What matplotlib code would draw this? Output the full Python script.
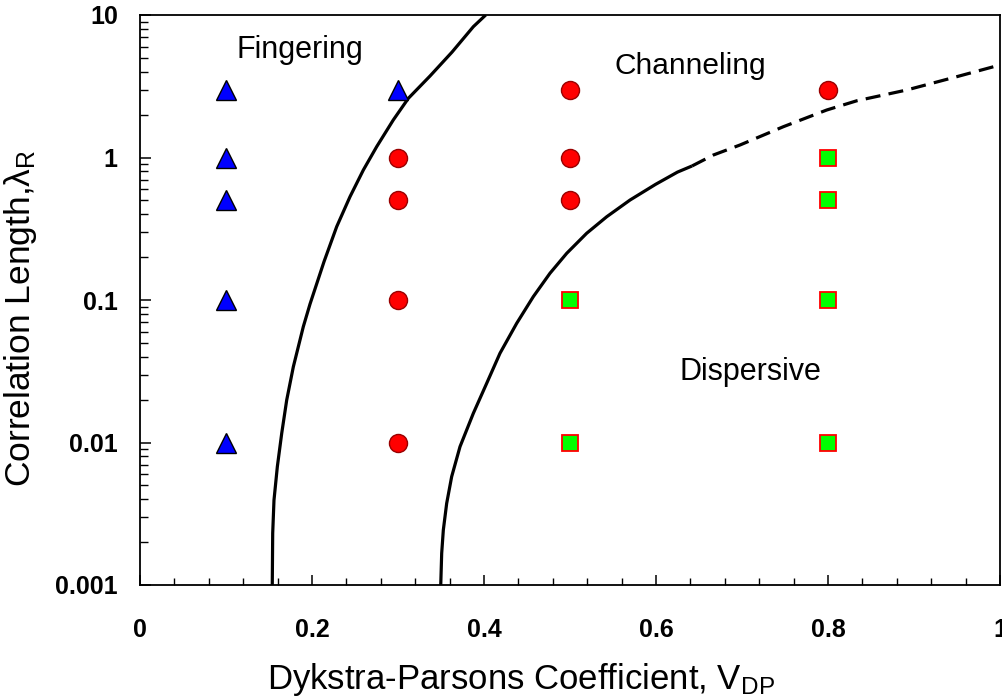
import matplotlib
matplotlib.use("Agg")
import matplotlib.pyplot as plt
from matplotlib.ticker import FixedLocator, LogLocator, NullFormatter, FixedFormatter

plt.rcParams['font.family'] = ['Liberation Sans', 'DejaVu Sans']
plt.rcParams['mathtext.fontset'] = 'custom'
plt.rcParams['mathtext.rm'] = 'Liberation Sans'
plt.rcParams['mathtext.it'] = 'Liberation Sans:italic'

# Simulation outcomes by Dykstra-Parsons coefficient and correlation length
fingering_vdp = [0.1, 0.1, 0.1, 0.1, 0.1, 0.3]
fingering_lam = [3, 1, 0.5, 0.1, 0.01, 3]

channeling_vdp = [0.3, 0.3, 0.3, 0.3, 0.5, 0.5, 0.5, 0.8]
channeling_lam = [1, 0.5, 0.1, 0.01, 3, 1, 0.5, 3]

dispersive_vdp = [0.5, 0.5, 0.8, 0.8, 0.8, 0.8]
dispersive_lam = [0.1, 0.01, 1, 0.5, 0.1, 0.01]

# Regime boundaries
fing_chan_vdp = [0.1538, 0.1543, 0.1558, 0.1597, 0.1648, 0.1706, 0.1783, 0.1899,
                 0.1977, 0.2140, 0.2287, 0.2442, 0.2597, 0.2752, 0.2945, 0.3120,
                 0.3372, 0.3628, 0.3876, 0.402]
fing_chan_lam = [0.001, 0.00231, 0.00394, 0.00677, 0.01161, 0.01987, 0.0340, 0.0650,
                 0.0937, 0.186, 0.327, 0.531, 0.817, 1.191, 1.833, 2.60,
                 3.73, 5.49, 8.28, 10]

chan_disp_vdp = [0.3497, 0.3508, 0.3527, 0.3566, 0.3624, 0.3721, 0.3876, 0.4031,
                 0.4186, 0.4380, 0.4573, 0.4767, 0.4962, 0.5194, 0.5427, 0.5698,
                 0.5995, 0.6250, 0.6419]
chan_disp_lam = [0.001, 0.00167, 0.00243, 0.00374, 0.00576, 0.00935, 0.01603, 0.0260,
                 0.0423, 0.0686, 0.1055, 0.154, 0.2127, 0.294, 0.384, 0.503,
                 0.648, 0.790, 0.872]

chan_disp_ext_vdp = [0.6419, 0.6667, 0.6977, 0.748, 0.7985, 0.8334, 0.8915, 0.9497, 1.0]
chan_disp_ext_lam = [0.872, 1.041, 1.224, 1.644, 2.154, 2.50, 2.976, 3.69, 4.46]

x_ticks = [0, 0.2, 0.4, 0.6, 0.8, 1]
x_tick_labels = ['0', '0.2', '0.4', '0.6', '0.8', '1']
y_ticks = [0.001, 0.01, 0.1, 1, 10]
y_tick_labels = ['0.001', '0.01', '0.1', '1', '10']

fig = plt.figure(figsize=(10.02, 6.96), dpi=100)
ax = fig.add_axes([140 / 1002, 111 / 696, 860 / 1002, 570 / 696])

ax.plot(fing_chan_vdp, fing_chan_lam, color='black', lw=2.3, solid_capstyle='butt',
        solid_joinstyle='round')
ax.plot(chan_disp_vdp, chan_disp_lam, color='black', lw=2.3, solid_capstyle='butt',
        solid_joinstyle='round')
ax.plot(chan_disp_ext_vdp, chan_disp_ext_lam, color='black', lw=2.3,
        linestyle=(0, (4.7, 2.6)), dash_capstyle='butt')

ax.plot(fingering_vdp, fingering_lam, linestyle='none', marker='^', ms=14,
        mfc='#0000FF', mec='black', mew=1.0, clip_on=False, zorder=3)
ax.plot(channeling_vdp, channeling_lam, linestyle='none', marker='o', ms=13,
        mfc='#FF0000', mec='#990000', mew=1.0, clip_on=False, zorder=3)
ax.plot(dispersive_vdp, dispersive_lam, linestyle='none', marker='s', ms=12,
        mfc='#00FF00', mec='#FF0000', mew=1.3, clip_on=False, zorder=3)

ax.text(0.186, 5.7, 'Fingering', fontsize=22, ha='center', va='center')
ax.text(0.64, 4.4, 'Channeling', fontsize=21.5, ha='center', va='center')
ax.text(0.71, 0.031, 'Dispersive', fontsize=22, ha='center', va='center')

ax.set_yscale('log')
ax.set_xlim(0, 1)
ax.set_ylim(0.001, 10)

ax.xaxis.set_major_locator(FixedLocator(x_ticks))
ax.xaxis.set_major_formatter(FixedFormatter(x_tick_labels))
ax.xaxis.set_minor_locator(FixedLocator([i * 0.04 for i in range(26)]))
ax.yaxis.set_major_locator(FixedLocator(y_ticks))
ax.yaxis.set_major_formatter(FixedFormatter(y_tick_labels))
ax.yaxis.set_minor_locator(LogLocator(base=10, subs=range(2, 10)))
ax.yaxis.set_minor_formatter(NullFormatter())

ax.tick_params(axis='x', which='major', direction='in', length=7, width=1.1,
               pad=24, labelsize=18, top=False)
ax.tick_params(axis='x', which='minor', direction='in', length=5, width=1.0, top=False)
ax.tick_params(axis='y', which='major', direction='in', length=8, width=1.1,
               pad=16, labelsize=18, right=False)
ax.tick_params(axis='y', which='minor', direction='in', length=6, width=1.0, right=False)
for lab in ax.get_xticklabels() + ax.get_yticklabels():
    lab.set_fontweight('bold')

for s in ax.spines.values():
    s.set_linewidth(1.3)

ax.set_xlabel(r'Dykstra-Parsons Coefficient, V$\mathregular{_{DP}}$', fontsize=25)
ax.set_ylabel(r'Correlation Length,$\mathregular{\lambda_R}$', fontsize=25.5)
ax.xaxis.set_label_coords(0.443, -0.133)
ax.yaxis.set_label_coords(-0.117, 0.468)

fig.savefig('out.png', dpi=100)
